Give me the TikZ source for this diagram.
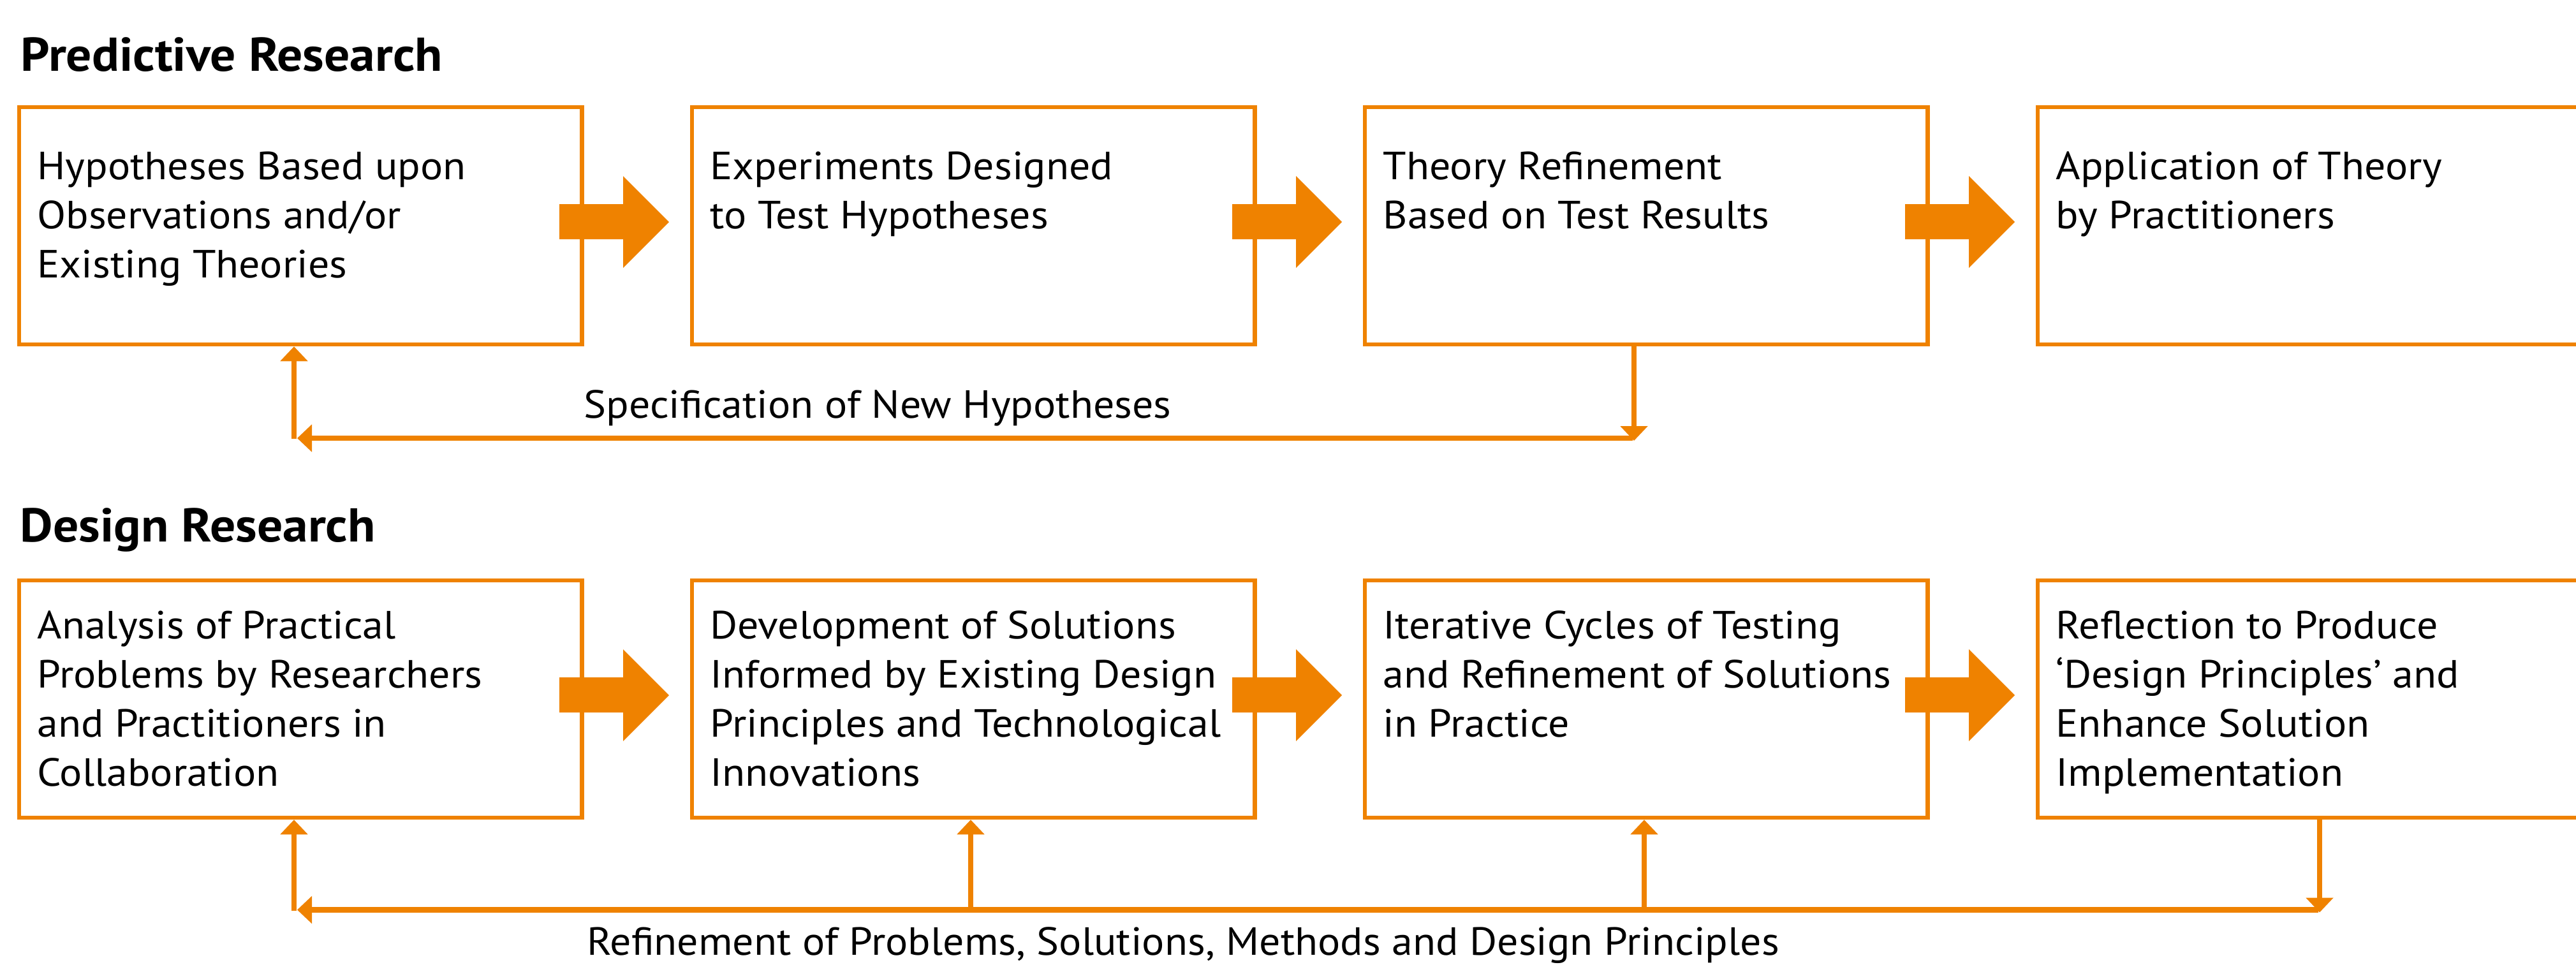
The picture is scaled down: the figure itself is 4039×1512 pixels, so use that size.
\documentclass[tikz,border=0pt]{standalone}
\usepackage{fontspec}
\setmainfont{PT Sans}[FakeStretch=1.07]
\usetikzlibrary{arrows.meta,calc}
\definecolor{dorange}{RGB}{239,130,0}
\newcommand{\bodyfont}{\fontsize{15.4pt}{19.25pt}\selectfont}
\newcommand{\titlefont}{\fontsize{18.6pt}{22pt}\selectfont\bfseries}
\newcommand{\mylines}[1]{\begin{tabular}[t]{@{}l@{}}#1\end{tabular}}
\newcommand{\bigarr}[1]{%
  \fill[dorange] ($(#1.center)+(405.75,-34)$) -- ($(#1.center)+(505.75,-34)$)
    -- ($(#1.center)+(505.75,-78)$) -- ($(#1.center)+(577.75,-6)$)
    -- ($(#1.center)+(505.75,66)$) -- ($(#1.center)+(505.75,21)$)
    -- ($(#1.center)+(405.75,21)$) -- cycle;}
\begin{document}
\begin{tikzpicture}[x=0.25pt,y=-0.25pt,
  box/.style={draw=dorange,line width=1.625pt,minimum width=220.625pt,minimum height=93pt,inner sep=0pt},
  txt/.style={anchor=base west,inner sep=0pt,font=\bodyfont},
  ttl/.style={anchor=base west,inner sep=0pt,font=\titlefont},
  fb/.style={draw=dorange,line width=2.2pt,-{Triangle[length=5.75pt,width=10.5pt]}}]
\clip (0,0) rectangle (4039,1512);
\fill[white] (0,0) rectangle (4039,1512);

% titles
\node[ttl] (tp) at (32,111) {Predictive Research};
\node[ttl] (td) at (31,849) {Design Research};

% top row boxes
\node[box] (p1) at (471.25,354) {};
\node[box] (p2) at (1526.25,354) {};
\node[box] (p3) at (2581.25,354) {};
\node[box] (p4) at (3636.25,354) {};
% bottom row boxes
\node[box] (r1) at (471.25,1096) {};
\node[box] (r2) at (1526.25,1096) {};
\node[box] (r3) at (2581.25,1096) {};
\node[box] (r4) at (3636.25,1096) {};

% big arrows
\bigarr{p1}\bigarr{p2}\bigarr{p3}
\bigarr{r1}\bigarr{r2}\bigarr{r3}

% box texts
\node[txt] (pt1) at ($(p1.north west)+(31,117)$) {\mylines{Hypotheses Based upon\\Observations and/or\\Existing Theories}};
\node[txt] (pt2) at ($(p2.north west)+(31,117)$) {\mylines{Experiments Designed\\to Test Hypotheses}};
\node[txt] (pt3) at ($(p3.north west)+(31,117)$) {\mylines{Theory Refinement\\Based on Test Results}};
\node[txt] (pt4) at ($(p4.north west)+(31,117)$) {\mylines{Application of Theory\\by Practitioners}};
\node[txt] (rt1) at ($(r1.north west)+(31,95)$) {\mylines{Analysis of Practical\\Problems by Researchers\\and Practitioners in\\Collaboration}};
\node[txt] (rt2) at ($(r2.north west)+(31,95)$) {\mylines{Development of Solutions\\Informed by Existing Design\\Principles and Technological\\Innovations}};
\node[txt] (rt3) at ($(r3.north west)+(31,95)$) {\mylines{Iterative Cycles of Testing\\and Refinement of Solutions\\in Practice}};
\node[txt] (rt4) at ($(r4.north west)+(31,95)$) {\mylines{Reflection to Produce\\‘Design Principles’ and\\Enhance Solution\\Implementation}};

% predictive feedback loop
\coordinate (pr) at (2562,687);
\coordinate (pl) at (461,687);
\draw[fb] (p3.south -| pr) -- ($(pr)+(0,4)$);
\draw[fb] ($(pr)+(-2,0)$) -- ($(pl)+(5,0)$);
\draw[fb] ($(pl)+(0,1)$) -- (p1.south -| pl);
\node[txt] (lp) at (915,655) {Specification of New Hypotheses};

% design feedback loop
\coordinate (dr) at (3637,1426.5);
\coordinate (dl) at (461,1426.5);
\coordinate (j2) at (1522,1426.5);
\coordinate (j3) at (2578,1426.5);
\draw[fb] (r4.south -| dr) -- ($(dr)+(0,4)$);
\draw[fb] ($(dr)+(-2,0)$) -- ($(dl)+(5,0)$);
\draw[fb] ($(dl)+(0,1)$) -- (r1.south -| dl);
\draw[fb] (j2) -- (r2.south -| j2);
\draw[fb] (j3) -- (r3.south -| j3);
\node[txt] (ld) at (920,1497) {Refinement of Problems, Solutions, Methods and Design Principles};
\end{tikzpicture}
\end{document}
